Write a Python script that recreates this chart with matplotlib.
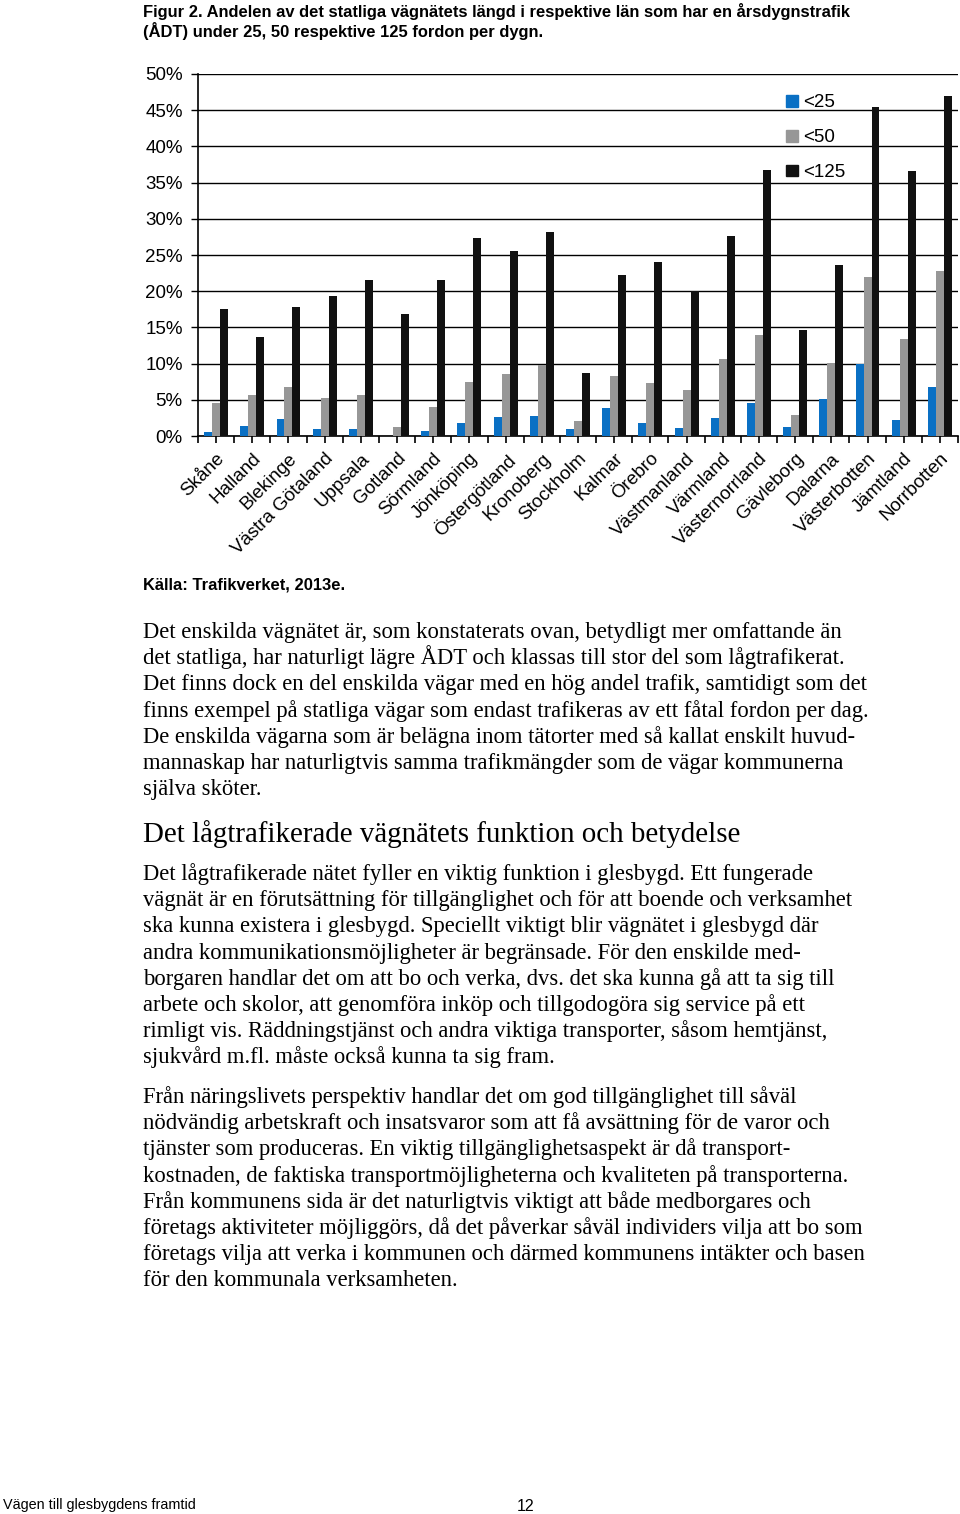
import matplotlib
matplotlib.use("Agg")
import numpy as np
import matplotlib.pyplot as plt
from matplotlib.ticker import FixedLocator, PercentFormatter
from matplotlib.patches import Patch

# Data (share of state road length, %)
lan = ["Skåne", "Halland", "Blekinge", "Västra Götaland", "Uppsala", "Gotland",
       "Sörmland", "Jönköping", "Östergötland", "Kronoberg", "Stockholm",
       "Kalmar", "Örebro", "Västmanland", "Värmland", "Västernorrland",
       "Gävleborg", "Dalarna", "Västerbotten", "Jämtland", "Norrbotten"]
under_25 = [0.55, 1.4, 2.35, 1.0, 1.0, 0.05, 0.7, 1.8, 2.6, 2.7, 0.9,
            3.8, 1.8, 1.1, 2.5, 4.5, 1.3, 5.1, 10.0, 2.2, 6.8]
under_50 = [4.6, 5.6, 6.8, 5.25, 5.6, 1.3, 4.05, 7.5, 8.6, 9.8, 2.1,
            8.3, 7.3, 6.4, 10.6, 14.0, 2.9, 10.1, 22.0, 13.4, 22.8]
under_125 = [17.6, 13.7, 17.8, 19.4, 21.6, 16.8, 21.6, 27.4, 25.6, 28.2, 8.7,
             22.2, 24.1, 20.0, 27.6, 36.7, 14.7, 23.6, 45.4, 36.6, 47.0]
series_names = ["<25", "<50", "<125"]
colors = ["#0A70C4", "#979797", "#111111"]

caption = ["Figur 2. Andelen av det statliga vägnätets längd i respektive län som har en årsdygnstrafik",
           "(ÅDT) under 25, 50 respektive 125 fordon per dygn."]
source = "Källa: Trafikverket, 2013e."
para1 = ["Det enskilda vägnätet är, som konstaterats ovan, betydligt mer omfattande än",
         "det statliga, har naturligt lägre ÅDT och klassas till stor del som lågtrafikerat.",
         "Det finns dock en del enskilda vägar med en hög andel trafik, samtidigt som det",
         "finns exempel på statliga vägar som endast trafikeras av ett fåtal fordon per dag.",
         "De enskilda vägarna som är belägna inom tätorter med så kallat enskilt huvud-",
         "mannaskap har naturligtvis samma trafikmängder som de vägar kommunerna",
         "själva sköter."]
heading = "Det lågtrafikerade vägnätets funktion och betydelse"
para2 = ["Det lågtrafikerade nätet fyller en viktig funktion i glesbygd. Ett fungerade",
         "vägnät är en förutsättning för tillgänglighet och för att boende och verksamhet",
         "ska kunna existera i glesbygd. Speciellt viktigt blir vägnätet i glesbygd där",
         "andra kommunikationsmöjligheter är begränsade. För den enskilde med-",
         "borgaren handlar det om att bo och verka, dvs. det ska kunna gå att ta sig till",
         "arbete och skolor, att genomföra inköp och tillgodogöra sig service på ett",
         "rimligt vis. Räddningstjänst och andra viktiga transporter, såsom hemtjänst,",
         "sjukvård m.fl. måste också kunna ta sig fram."]
para3 = ["Från näringslivets perspektiv handlar det om god tillgänglighet till såväl",
         "nödvändig arbetskraft och insatsvaror som att få avsättning för de varor och",
         "tjänster som produceras. En viktig tillgänglighetsaspekt är då transport-",
         "kostnaden, de faktiska transportmöjligheterna och kvaliteten på transporterna.",
         "Från kommunens sida är det naturligtvis viktigt att både medborgares och",
         "företags aktiviteter möjliggörs, då det påverkar såväl individers vilja att bo som",
         "företags vilja att verka i kommunen och därmed kommunens intäkter och basen",
         "för den kommunala verksamheten."]

W, H = 960, 1514
fig = plt.figure(figsize=(W / 100, H / 100), dpi=100)
fig.patch.set_facecolor("white")


def fy(py):
    # pixel row from top -> figure fraction
    return 1 - py / H


sans = "Liberation Sans"
serif = "Liberation Serif"

# --- chart ---
ax = fig.add_axes([198 / W, fy(436), 760 / W, 362 / H])
x = np.arange(len(lan))
w = 0.22
for i, vals in enumerate([under_25, under_50, under_125]):
    ax.bar(x + (i - 1) * w, vals, width=w, color=colors[i], zorder=3)

ax.set_xlim(-0.5, len(lan) - 0.5)
ax.set_ylim(0, 50)
ax.yaxis.set_major_locator(FixedLocator(np.arange(0, 51, 5)))
ax.yaxis.set_major_formatter(PercentFormatter(decimals=0))
ax.grid(axis="y", color="black", linewidth=1.0, zorder=0)
for s in ["top", "right"]:
    ax.spines[s].set_visible(False)
ax.spines["left"].set_linewidth(1.2)
ax.spines["bottom"].set_linewidth(1.2)

ax.set_xticks(x)
ax.set_xticks(np.arange(-0.5, len(lan)), minor=True)
ax.set_xticklabels(lan, rotation=45, ha="right", rotation_mode="anchor",
                   fontsize=13.5, family=sans)
ax.tick_params(axis="x", which="both", direction="out", length=5, width=1.2,
               pad=5)
ax.tick_params(axis="y", direction="out", length=5, width=1.0, labelsize=13.5,
               pad=6)
for lab in ax.get_yticklabels():
    lab.set_family(sans)

handles = [Patch(color=c) for c in colors]
ax.legend(handles, series_names, loc="upper left",
          bbox_to_anchor=(0.752, 0.99), frameon=False,
          prop={"family": sans, "size": 13.5}, labelspacing=0.95,
          handlelength=0.6, handleheight=0.6, handletextpad=0.3)

# --- page text ---
fig.text(143 / W, fy(17), caption[0], family=sans, weight="bold", fontsize=11.9,
         va="baseline")
fig.text(143 / W, fy(36.5), caption[1], family=sans, weight="bold", fontsize=11.9,
         va="baseline")
fig.text(143 / W, fy(589), source, family=sans, weight="bold", fontsize=11.9,
         va="baseline")

step = 26.2
for k, line in enumerate(para1):
    fig.text(143 / W, fy(638 + k * step), line, family=serif, fontsize=16.3,
             va="baseline")
fig.text(143 / W, fy(842), heading, family=serif, fontsize=20.9, va="baseline")
for k, line in enumerate(para2):
    fig.text(143 / W, fy(880 + k * step), line, family=serif, fontsize=16.3,
             va="baseline")
for k, line in enumerate(para3):
    fig.text(143 / W, fy(1103 + k * step), line, family=serif, fontsize=16.3,
             va="baseline")

fig.text(3 / W, fy(1509), "Vägen till glesbygdens framtid", family=sans,
         fontsize=10.4, va="baseline")
fig.text(526 / W, fy(1511), "12", family=sans, fontsize=11.5, ha="center",
         va="baseline")

plt.savefig("out.png", dpi=100)
plt.close()
